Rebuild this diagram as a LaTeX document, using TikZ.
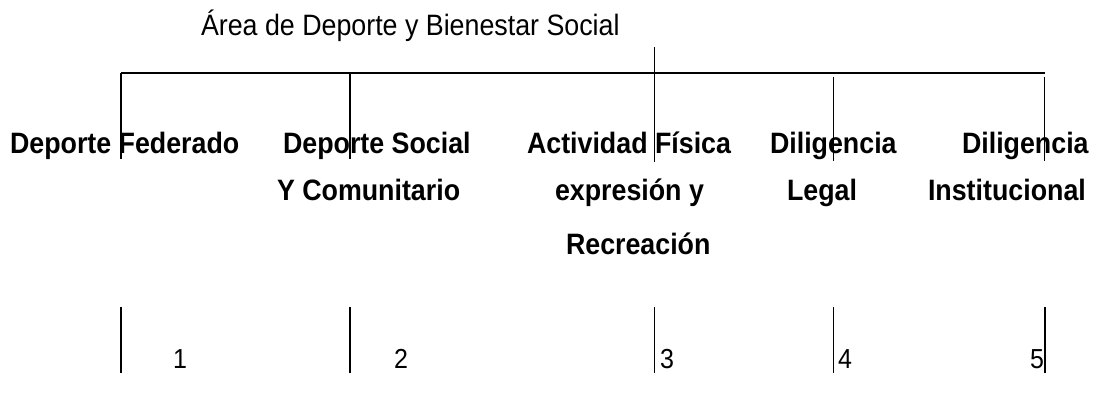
\documentclass[tikz,border=0pt]{standalone}
\usepackage{fontspec}
\setmainfont{Liberation Sans}
\newcommand\talltext[1]{\scalebox{1}[1.1]{#1}}
\begin{document}
\begin{tikzpicture}[x=1pt,y=-1pt,
  lbl/.style={anchor=base west,inner sep=0pt,outer sep=0pt,font=\fontsize{26.8}{32}\selectfont\bfseries},
  ttl/.style={anchor=base west,inner sep=0pt,outer sep=0pt,font=\fontsize{26.8}{32}\selectfont},
  num/.style={anchor=base,inner sep=0pt,outer sep=0pt,font=\fontsize{25}{30}\selectfont},
  ln/.style={line width=1.6pt}]
\useasboundingbox[fill=white] (0,0) rectangle (1097,394);
% title
\node[ttl] (title) at (201,35) {\talltext{Área de Deporte y Bienestar Social}};
% row 1
\node[lbl] (df) at (10,153) {\talltext{Deporte Federado}};
\node[lbl] (ds) at (283,153) {\talltext{Deporte Social}};
\node[lbl] (af) at (527,153) {\talltext{Actividad Física}};
\node[lbl] (dl) at (770,153) {\talltext{Diligencia}};
\node[lbl] (di) at (962,153) {\talltext{Diligencia}};
% row 2
\node[lbl] (ds2) at (277,200) {\talltext{Y Comunitario}};
\node[lbl] (af2) at (555,200) {\talltext{expresión y}};
\node[lbl] (dl2) at (787,200) {\talltext{Legal}};
\node[lbl] (di2) at (928,200) {\talltext{Institucional}};
% row 3
\node[lbl] (af3) at (566,254) {\talltext{Recreación}};
% numbers
\node[num] (n1) at (180,368) {\talltext{1}};
\node[num] (n2) at (401,368) {\talltext{2}};
\node[num] (n3) at (667,368) {\talltext{3}};
\node[num] (n4) at (845,368) {\talltext{4}};
\node[num] (n5) at (1037,368) {\talltext{5}};
% coordinates
\coordinate (stemtop) at (654.5,47);
\coordinate (hl) at (120.7,73);
\coordinate (hr) at (1045,73);
\coordinate (b1) at (350,73);
\coordinate (t4) at (833.5,77);
\coordinate (t5) at (1044.5,77);
\coordinate (e1) at (120.7,159);
\coordinate (e2) at (350,159);
\coordinate (e3) at (654.5,162);
\coordinate (e4) at (833.5,161);
\coordinate (e5) at (1044.5,161);
\foreach \i/\x in {1/120.7,2/350,3/654.5,4/833.5,5/1045}{
  \coordinate (u\i) at (\x,307);
  \coordinate (w\i) at (\x,373);
}
% connectors
\draw[ln] (stemtop) -- (e3);
\draw[ln] (hl) -- (hr);
\draw[ln] (hl) -- (e1);
\draw[ln] (b1) -- (e2);
\draw[ln] (t4) -- (e4);
\draw[ln] (t5) -- (e5);
\foreach \i in {1,...,5}{\draw[ln] (u\i) -- (w\i);}
\end{tikzpicture}
\end{document}
